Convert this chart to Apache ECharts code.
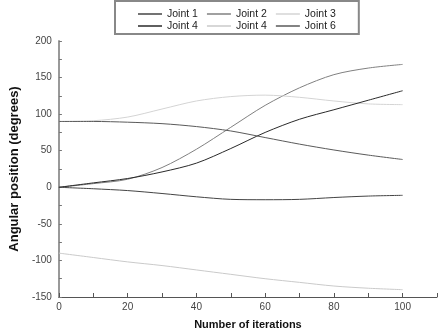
<!DOCTYPE html>
<html>
<head>
    <meta charset="utf-8">
    <script src="https://cdn.jsdelivr.net/npm/echarts@6/dist/echarts.min.js"></script>
</head>
<body style="margin:0;background:#fff;">
<div id="main" style="width: 440px;height:336px;"></div>
<script type="text/javascript">
    // iterations sampled every 10
    var iterations = [0, 10, 20, 30, 40, 50, 60, 70, 80, 90, 100];

    var joint1 = [0, -2, -4.5, -8.5, -13, -16.5, -17, -16.5, -14, -12, -11];
    var joint2 = [0, 5, 11, 27, 52, 82, 112, 136, 154, 163, 168];
    var joint3 = [90, 91, 96, 107, 118, 124, 126, 123, 118, 114, 113];
    var joint4 = [0, 6, 12, 21, 33, 53, 75, 93, 106, 119, 132];
    var joint4b = [-90, -96, -102, -107, -113, -119, -125, -130, -135, -138, -140];
    var joint6 = [90, 90, 89, 87, 83, 77, 68, 59, 51, 44, 38];

    var names = ['Joint 1', 'Joint 2', 'Joint 3', 'Joint 4', 'Joint 4 ', 'Joint 6'];
    var colors = ['#444', '#808080', '#d4d4d4', '#2a2a2a', '#cacaca', '#5a5a5a'];
    var values = [joint1, joint2, joint3, joint4, joint4b, joint6];

    var font = 'Liberation Sans, Arial, sans-serif';

    var myChart = echarts.init(document.getElementById('main'));

    var series = values.map(function (vals, i) {
        return {
            name: names[i],
            type: 'line',
            smooth: 0.3,
            symbol: 'none',
            color: colors[i],
            lineStyle: { width: 1, color: colors[i] },
            data: iterations.map(function (x, k) { return [x, vals[k]]; })
        };
    });

    var legendBase = {
        orient: 'horizontal',
        left: 115,
        icon: 'rect',
        itemWidth: 24,
        itemHeight: 1.5,
        itemGap: 9,
        formatter: function (n) { return n.trim(); },
        textStyle: { fontFamily: font, fontSize: 10.5, color: '#222', lineHeight: 12 }
    };

    var option = {
        animation: false,
        backgroundColor: '#fff',
        legend: [
            Object.assign({}, legendBase, {
                data: names.slice(0, 3),
                top: 1,
                padding: [7, 23, 14, 23],
                borderColor: '#888',
                borderWidth: 2,
                backgroundColor: '#fff'
            }),
            Object.assign({}, legendBase, {
                data: names.slice(3),
                top: 20,
                padding: [0, 23]
            })
        ],
        grid: { left: 56, right: -2, top: 41, bottom: 39 },
        xAxis: {
            type: 'value',
            min: 0,
            max: 110,
            interval: 10,
            name: 'Number of iterations',
            nameLocation: 'middle',
            nameGap: 22,
            nameTextStyle: { fontFamily: font, fontSize: 11, fontWeight: 'bold', color: '#111' },
            axisLine: { onZero: false, lineStyle: { color: '#555', width: 1 } },
            axisTick: { inside: true, length: 4, lineStyle: { color: '#555' } },
            axisLabel: {
                fontFamily: font, fontSize: 10, color: '#444', margin: 5,
                formatter: function (v) { return (v % 20 === 0 && v <= 100) ? v : ''; }
            },
            splitLine: { show: false }
        },
        yAxis: {
            type: 'value',
            min: -150,
            max: 200,
            interval: 25,
            name: 'Angular position (degrees)',
            nameLocation: 'middle',
            nameGap: 32,
            nameTextStyle: { fontFamily: font, fontSize: 13, fontWeight: 'bold', color: '#111' },
            axisLine: { onZero: false, lineStyle: { color: '#999', width: 2 } },
            axisTick: { inside: true, length: 3, lineStyle: { color: '#777' } },
            axisLabel: {
                fontFamily: font, fontSize: 10, color: '#444', margin: 7,
                formatter: function (v) { return v % 50 === 0 ? v : ''; }
            },
            splitLine: { show: false }
        },
        series: series
    };
    myChart.setOption(option);
</script>
</body>
</html>
